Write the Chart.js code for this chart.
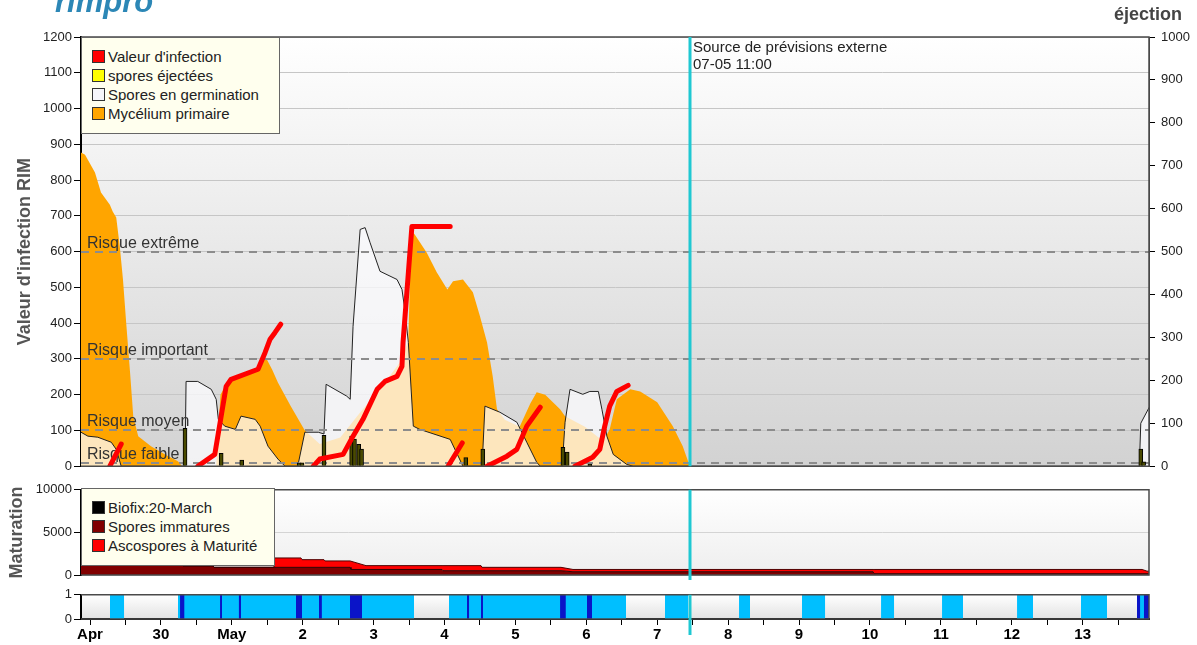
<!DOCTYPE html>
<html>
<head>
<meta charset="utf-8">
<script src="https://cdn.jsdelivr.net/npm/chart.js@4.4.1/dist/chart.umd.min.js"></script>
<style>
body { margin: 0; background: #fff; font-family: "Liberation Sans", Arial, Helvetica, sans-serif; overflow: hidden; }
#page { position: relative; width: 1197px; height: 645px; overflow: hidden; }
canvas { position: absolute; left: 0; }
.legend { position: absolute; background: #ffffee; border: 1px solid #666; box-sizing: border-box; padding-top: 9px; font-size: 15px; color: #222; z-index: 2; }
.legend div { position: relative; height: 19px; line-height: 19px; padding-left: 26px; white-space: nowrap; }
.legend span { position: absolute; left: 10px; top: 3px; width: 13px; height: 13px; border: 1px solid #333; box-sizing: border-box; }
.txt { position: absolute; z-index: 2; white-space: nowrap; }
</style>
</head>
<body>
<div id="page">
  <div class="txt" style="left:55px;top:-16px;font-size:31px;font-weight:bold;font-style:italic;color:#2c87b6;">rimpro</div>
  <div class="txt" style="left:1114px;top:4px;font-size:18px;font-weight:bold;color:#444;">éjection</div>

  <canvas id="mainChart" width="1197" height="480" style="top:0"></canvas>
  <canvas id="matChart" width="1197" height="105" style="top:480px"></canvas>
  <canvas id="wetChart" width="1197" height="60" style="top:585px"></canvas>

  <div class="legend" style="left:81px;top:37px;width:199px;height:97px;">
    <div><span style="background:#ff0000"></span>Valeur d'infection</div>
    <div><span style="background:#ffff00"></span>spores éjectées</div>
    <div><span style="background:#f6f6fa"></span>Spores en germination</div>
    <div><span style="background:#ffa500"></span>Mycélium primaire</div>
  </div>
  <div class="legend" style="left:81px;top:488px;width:194px;height:78px;">
    <div><span style="background:#000"></span>Biofix:20-March</div>
    <div><span style="background:#800000"></span>Spores immatures</div>
    <div><span style="background:#ff0000"></span>Ascospores à Maturité</div>
  </div>
  <div class="txt" style="left:693px;top:38px;font-size:15px;line-height:17px;color:#222;">Source de prévisions externe<br>07-05 11:00</div>
</div>

<script>
// x values are days counted from 29 April 00:00
const xMin = -0.127;
const xMax = 14.936;
const forecastDay = 8 + 11 / 24;   // 07-05 11:00
const dayLabels = ['Apr', '30', 'May', '2', '3', '4', '5', '6', '7', '8', '9', '10', '11', '12', '13'];

// Mycélium primaire
const myceliumDays = [-0.127, -0.07, 0.07, 0.155, 0.28, 0.32, 0.37, 0.42, 0.465, 0.51, 0.565, 0.61, 0.68, 0.86, 1.06, 1.24, 1.30, 1.78, 1.84, 1.92, 2.12, 2.37, 2.48, 2.57, 2.65, 2.83, 3.03, 3.24, 3.53, 3.81, 4.09, 4.37, 4.49, 4.53, 4.58, 4.75, 4.89, 5.04, 5.12, 5.26, 5.40, 5.50, 5.60, 5.68, 5.74, 5.85, 6.06, 6.21, 6.30, 6.42, 6.63, 6.70, 6.98, 7.24, 7.33, 7.43, 7.62, 7.76, 8.00, 8.22, 8.36, 8.46, 14.94];
const myceliumValues = [877, 871, 821, 765, 731, 712, 695, 614, 522, 402, 262, 140, 84, 56, 33, 14, 0, 0, 200, 229, 250, 271, 304, 270, 234, 168, 100, 62, 80, 150, 215, 290, 350, 660, 648, 597, 542, 494, 517, 522, 486, 419, 346, 251, 159, 130, 110, 175, 207, 200, 159, 140, 110, 70, 103, 187, 215, 209, 179, 112, 56, 0, 0];

// Spores en germination
const germDays = [-0.127, -0.03, 0.11, 0.30, 0.37, 0.44, 1.34, 1.355, 1.52, 1.71, 1.78, 1.81, 1.90, 2.05, 2.13, 2.33, 2.40, 2.51, 2.65, 2.75, 2.93, 3.03, 3.22, 3.30, 3.33, 3.62, 3.67, 3.71, 3.81, 3.88, 3.95, 4.09, 4.33, 4.40, 4.44, 4.49, 4.56, 4.65, 5.08, 5.26, 5.53, 5.57, 5.78, 6.02, 6.16, 6.30, 6.35, 6.66, 6.70, 6.77, 6.95, 7.05, 7.17, 7.22, 7.29, 7.38, 7.57, 7.66, 14.80, 14.82, 14.94];
const germValues = [95, 84, 81, 67, 47, 0, 0, 237, 237, 215, 187, 131, 112, 103, 140, 131, 112, 56, 20, 0, 0, 95, 95, 90, 229, 196, 187, 391, 662, 667, 625, 545, 522, 494, 438, 346, 112, 103, 75, 0, 0, 168, 151, 123, 67, 11, 0, 0, 123, 215, 201, 209, 209, 159, 84, 33, 5, 0, 0, 120, 165];

// Valeur d'infection (null = gap between infection events)
const infectionDays = [0.28, 0.44, 0.44, 1.52, 1.76, 1.85, 1.92, 1.99, 2.37, 2.47, 2.54, 2.61, 2.69, 2.69, 3.15, 3.24, 3.57, 3.71, 3.85, 4.05, 4.16, 4.33, 4.40, 4.415, 4.54, 5.08, 5.08, 5.05, 5.25, 5.25, 5.60, 5.88, 6.02, 6.16, 6.35, 6.35, 6.84, 7.09, 7.19, 7.26, 7.33, 7.43, 7.59];
const infectionValues = [0, 62, null, 0, 33, 140, 223, 243, 271, 318, 355, 374, 397, null, 0, 20, 33, 84, 131, 215, 237, 251, 279, 346, 670, 670, null, 0, 65, null, 0, 28, 47, 112, 165, null, 0, 25, 47, 112, 168, 209, 226];

// spores éjectées (right axis)
const ejectionDays = [1.34, 1.85, 2.14, 2.95, 2.99, 3.30, 3.69, 3.73, 3.79, 3.83, 5.30, 5.54, 6.67, 6.73, 7.05, 14.82, 14.86];
const ejectionValues = [88, 30, 14, 8, 8, 72, 70, 63, 51, 40, 20, 40, 44, 33, 5, 40, 10];

const riskLevels = [600, 300, 100, 10];
const riskLabels = ['Risque extrême', 'Risque important', 'Risque moyen', 'Risque faible'];

// Maturation
const matDays = [-0.127, 1.298, 1.312, 1.735, 1.749, 2.581, 2.595, 2.976, 2.990, 3.300, 3.315, 3.667, 3.681, 3.893, 4.965, 4.979, 5.515, 5.529, 6.643, 6.812, 11.044, 11.058, 14.838, 14.908, 14.936];
const immatureValues = [1200, 1200, 1050, 1050, 900, 900, 900, 900, 900, 900, 900, 900, 650, 650, 650, 500, 500, 500, 500, 380, 380, 150, 150, 150, 150];
const matureValues = [0, 0, 0, 0, 0, 0, 1100, 1100, 900, 900, 750, 750, 1000, 450, 450, 600, 600, 400, 400, 270, 270, 500, 500, 300, 300];

// wetness band
const wetStart = [0.282, 1.241, 5.063, 8.110, 9.154, 10.042, 11.157, 12.017, 13.075, 13.977, 14.767];
const wetEnd = [0.480, 4.570, 7.560, 8.435, 9.309, 10.367, 11.340, 12.313, 13.300, 14.344, 14.937];
const rainStart = [1.27, 1.834, 2.10, 2.905, 3.23, 3.667, 5.317, 5.515, 6.63, 7.01, 14.767, 14.865];
const rainEnd = [1.33, 1.862, 2.13, 2.99, 3.27, 3.836, 5.346, 5.543, 6.71, 7.08, 14.81, 14.937];

const FONT = '"Liberation Sans", Arial, Helvetica, sans-serif';
Chart.defaults.font.family = FONT;
Chart.defaults.color = '#222';

function points(days, values) {
    return days.map((d, i) => ({ x: d, y: values[i] }));
}

function stepPoints(starts, ends) {
    const out = [{ x: xMin, y: 0 }];
    starts.forEach((s, i) => {
        out.push({ x: s, y: 1 }, { x: ends[i], y: 0 });
    });
    out.push({ x: xMax, y: 0 });
    return out;
}

// plain numbers, no thousands separator
const plainTick = v => String(v);

// background gradient, frame and forecast line for every panel
const panelPlugin = {
    id: 'panel',
    beforeDraw(chart, args, opts) {
        const { ctx, chartArea: a } = chart;
        const g = ctx.createLinearGradient(0, a.top, 0, a.bottom);
        g.addColorStop(0, opts.top);
        g.addColorStop(1, opts.bottom);
        ctx.save();
        ctx.fillStyle = g;
        ctx.fillRect(a.left, a.top, a.right - a.left, a.bottom - a.top);
        ctx.restore();
    },
    afterDatasetsDraw(chart, args, opts) {
        const { ctx, chartArea: a, scales } = chart;
        ctx.save();
        ctx.strokeStyle = '#4a4a4a';
        ctx.lineWidth = 1.5;
        ctx.beginPath();
        ctx.moveTo(a.left, a.top);
        ctx.lineTo(a.right, a.top);
        ctx.lineTo(a.right, a.bottom);
        ctx.lineTo(a.left, a.bottom);
        ctx.stroke();
        const x = Math.round(scales.x.getPixelForValue(forecastDay));
        ctx.strokeStyle = '#1fc8d2';
        ctx.lineWidth = 3;
        ctx.beginPath();
        ctx.moveTo(x, a.top);
        ctx.lineTo(x, a.bottom + opts.extend);
        ctx.stroke();
        ctx.restore();
    }
};

// dashed risk thresholds, drawn over the areas but under bars and red line
const riskPlugin = {
    id: 'risk',
    afterDatasetDraw(chart, args) {
        if (args.index !== 2) return;
        const { ctx, chartArea: a, scales } = chart;
        ctx.save();
        ctx.strokeStyle = '#8c8c8c';
        ctx.lineWidth = 2;
        ctx.setLineDash([8, 6]);
        ctx.font = '16px ' + FONT;
        ctx.fillStyle = '#333';
        riskLevels.forEach((v, i) => {
            const y = Math.round(scales.y.getPixelForValue(v));
            ctx.beginPath();
            ctx.moveTo(a.left, y);
            ctx.lineTo(a.right, y);
            ctx.stroke();
            ctx.fillText(riskLabels[i], a.left + 6, y - 4);
        });
        ctx.restore();
    }
};

// Main chart
new Chart(document.getElementById('mainChart'), {
    type: 'line',
    data: {
        datasets: [
            {
                label: "Valeur d'infection",
                data: points(infectionDays, infectionValues),
                borderColor: '#ff0000',
                borderWidth: 5,
                borderCapStyle: 'round',
                borderJoinStyle: 'round',
                pointRadius: 0,
                fill: false,
                spanGaps: false,
                yAxisID: 'y'
            },
            {
                type: 'bar',
                label: 'spores éjectées',
                data: points(ejectionDays, ejectionValues),
                backgroundColor: '#4a4a00',
                borderColor: '#000',
                borderWidth: 1,
                barThickness: 4,
                grouped: false,
                yAxisID: 'y2'
            },
            {
                label: 'Spores en germination',
                data: points(germDays, germValues),
                borderColor: '#222',
                borderWidth: 1,
                backgroundColor: 'rgba(252,252,255,0.74)',
                fill: 'origin',
                pointRadius: 0,
                yAxisID: 'y'
            },
            {
                label: 'Mycélium primaire',
                data: points(myceliumDays, myceliumValues),
                borderWidth: 0,
                backgroundColor: '#ffa500',
                fill: 'origin',
                pointRadius: 0,
                yAxisID: 'y'
            }
        ]
    },
    options: {
        responsive: false,
        animation: false,
        layout: { padding: { top: 37, bottom: 13, left: 0, right: 0 } },
        plugins: {
            legend: { display: false },
            tooltip: { enabled: false },
            panel: { top: '#ffffff', bottom: '#d2d2d2', extend: 0 }
        },
        scales: {
            x: { type: 'linear', min: xMin, max: xMax, display: false, offset: false },
            y: {
                position: 'left',
                min: 0,
                max: 1200,
                ticks: { stepSize: 100, font: { size: 13 }, padding: 2, callback: plainTick },
                grid: { color: '#c6c6c6', tickColor: '#000', tickLength: 7 },
                border: { color: '#000', width: 2 },
                title: { display: true, text: "Valeur d'infection RIM", color: '#555', font: { size: 18, weight: 'bold' }, padding: { top: 14 } },
                afterFit(scale) { scale.width = 81; }
            },
            y2: {
                position: 'right',
                min: 0,
                max: 1000,
                ticks: { stepSize: 100, font: { size: 13 }, padding: 6, callback: plainTick },
                grid: { drawOnChartArea: false, tickColor: '#000', tickLength: 6 },
                border: { color: '#4a4a4a', width: 1 },
                afterFit(scale) { scale.width = 48; }
            }
        }
    },
    plugins: [panelPlugin, riskPlugin]
});

// Maturation chart
new Chart(document.getElementById('matChart'), {
    type: 'line',
    data: {
        datasets: [
            {
                label: 'Spores immatures',
                data: points(matDays, immatureValues),
                backgroundColor: '#800000',
                borderColor: '#300000',
                borderWidth: 1,
                pointRadius: 0,
                fill: 'origin'
            },
            {
                label: 'Ascospores à Maturité',
                data: points(matDays, matureValues.map((v, i) => v + immatureValues[i])),
                backgroundColor: '#ff0000',
                borderColor: '#500000',
                borderWidth: 1,
                pointRadius: 0,
                fill: '-1'
            }
        ]
    },
    options: {
        responsive: false,
        animation: false,
        layout: { padding: { top: 8, bottom: 10, left: 0, right: 48 } },
        plugins: {
            legend: { display: false },
            tooltip: { enabled: false },
            panel: { top: '#ffffff', bottom: '#eeeeee', extend: 5 }
        },
        scales: {
            x: { type: 'linear', min: xMin, max: xMax, display: false, offset: false },
            y: {
                min: 0,
                max: 10000,
                ticks: { stepSize: 5000, font: { size: 13 }, padding: 2, callback: plainTick },
                grid: { color: '#d4d4d4', tickColor: '#000', tickLength: 7 },
                border: { color: '#000', width: 2 },
                title: { display: true, text: 'Maturation', color: '#555', font: { size: 18, weight: 'bold' }, padding: { top: 6 } },
                afterFit(scale) { scale.width = 81; }
            }
        }
    },
    plugins: [panelPlugin]
});

// Wetness band + shared date axis
new Chart(document.getElementById('wetChart'), {
    type: 'line',
    data: {
        datasets: [
            {
                label: 'pluie',
                data: stepPoints(rainStart, rainEnd),
                stepped: true,
                backgroundColor: '#0a14c8',
                borderWidth: 0,
                pointRadius: 0,
                fill: 'origin'
            },
            {
                label: 'humectation',
                data: stepPoints(wetStart, wetEnd),
                stepped: true,
                backgroundColor: '#00bfff',
                borderWidth: 0,
                pointRadius: 0,
                fill: 'origin'
            }
        ]
    },
    options: {
        responsive: false,
        animation: false,
        layout: { padding: { top: 8, bottom: 0, left: 0, right: 48 } },
        plugins: {
            legend: { display: false },
            tooltip: { enabled: false },
            panel: { top: '#ffffff', bottom: '#e2e2e2', extend: 16 }
        },
        scales: {
            x: {
                type: 'linear',
                min: xMin,
                max: xMax,
                offset: false,
                afterBuildTicks(scale) {
                    const t = [];
                    for (let v = 0; v <= 14.5; v += 0.5) t.push({ value: v });
                    scale.ticks = t;
                },
                ticks: {
                    autoSkip: false,
                    maxRotation: 0,
                    color: '#000',
                    font: { size: 15, weight: 'bold' },
                    padding: 1,
                    callback(v) { return Number.isInteger(v) ? dayLabels[v] : ''; }
                },
                grid: { drawOnChartArea: false, tickColor: '#000', tickLength: 6 },
                border: { color: '#000', width: 2 },
                afterFit(scale) { scale.height = 26; }
            },
            y: {
                min: 0,
                max: 1,
                ticks: { stepSize: 1, font: { size: 13 }, padding: 2 },
                grid: { drawOnChartArea: false, tickColor: '#000', tickLength: 7 },
                border: { color: '#000', width: 2 },
                afterFit(scale) { scale.width = 81; }
            }
        }
    },
    plugins: [panelPlugin]
});
</script>
</body>
</html>
